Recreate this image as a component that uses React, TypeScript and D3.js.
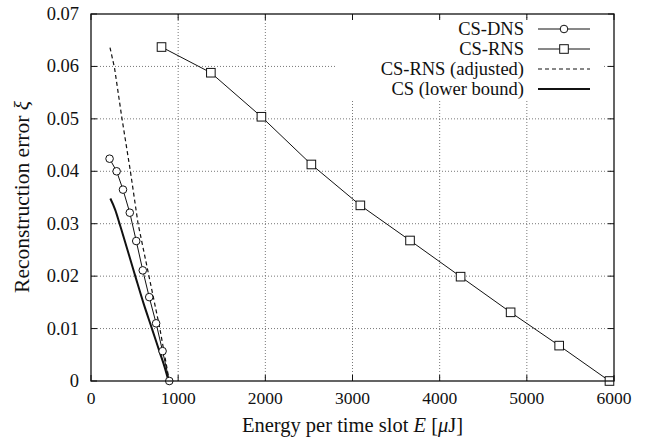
import React from 'react';
import * as d3 from 'd3';

// values
const dnsE = [213, 294, 367, 445, 519, 594, 668, 747, 821, 898];
const dnsXi = [0.0424, 0.04, 0.0365, 0.0321, 0.0267, 0.0211, 0.016, 0.011, 0.0057, 0];
const rnsE = [809, 1375, 1955, 2528, 3090, 3660, 4240, 4814, 5371, 5948];
const rnsXi = [0.0637, 0.0588, 0.0504, 0.0413, 0.0335, 0.0268, 0.0199, 0.0131, 0.00675, 0];
const adjE = [218, 270, 355, 452, 540, 665, 790, 898];
const adjXi = [0.0636, 0.0597, 0.0501, 0.04, 0.03, 0.02, 0.01, 0];
const lbE = [222, 279, 328, 508, 603, 699, 794, 844, 890];
const lbXi = [0.0348, 0.0326, 0.03, 0.02, 0.0148, 0.01, 0.0052, 0.0027, 0];

const xTicks = [0, 1000, 2000, 3000, 4000, 5000, 6000];
const yTicks = [0, 0.01, 0.02, 0.03, 0.04, 0.05, 0.06, 0.07];
const legendLabels = ['CS-DNS', 'CS-RNS', 'CS-RNS (adjusted)', 'CS (lower bound)'];

const W = 646, H = 439;
const margin = { top: 14, right: 32, bottom: 58, left: 91 };
const font = 'Liberation Serif, Times New Roman, serif';

const App: React.FC = () => {
  const iw = W - margin.left - margin.right;
  const ih = H - margin.top - margin.bottom;
  const x = d3.scaleLinear().domain([0, 6000]).range([0, iw]);
  const y = d3.scaleLinear().domain([0, 0.07]).range([ih, 0]);

  const zip = (a: number[], b: number[]) => a.map((v, i) => [v, b[i]] as [number, number]);
  const line = d3.line<[number, number]>().x(d => x(d[0])).y(d => y(d[1]));
  const smooth = d3.line<[number, number]>().x(d => x(d[0])).y(d => y(d[1])).curve(d3.curveMonotoneX);

  const dns = zip(dnsE, dnsXi);
  const rns = zip(rnsE, rnsXi);
  const sq = 8.6;
  const ink = '#111';
  const grid = '#777';

  const legX0 = 538 - margin.left, legX1 = 590 - margin.left, legT = 524 - margin.left;
  const legY = (i: number) => 29 - margin.top + i * 20;

  return (
    <svg width={W} height={H} style={{ position: 'absolute', left: 0, top: 0, background: '#fff', fontFamily: font }}>
      <g transform={`translate(${margin.left},${margin.top})`}>
        {/* grid */}
        {xTicks.slice(1, -1).map(t => (
          <line key={'gx' + t} x1={x(t)} x2={x(t)} y1={0} y2={ih} stroke={grid} strokeWidth={1} strokeDasharray="1,2" />
        ))}
        {yTicks.slice(1, -1).map(t => (
          <line key={'gy' + t} x1={0} x2={iw} y1={y(t)} y2={y(t)} stroke={grid} strokeWidth={1} strokeDasharray="1,2" />
        ))}

        {/* legend background */}
        <rect x={335 - margin.left} y={19 - margin.top} width={268} height={80} fill="#fff" />

        {/* ticks on all sides */}
        {xTicks.map(t => (
          <g key={'tx' + t}>
            <line x1={x(t)} x2={x(t)} y1={ih} y2={ih - 6} stroke={ink} />
            <line x1={x(t)} x2={x(t)} y1={0} y2={6} stroke={ink} />
            <text x={x(t)} y={ih + 23} textAnchor="middle" fontSize={17.5} fill={ink}>{t}</text>
          </g>
        ))}
        {yTicks.map(t => (
          <g key={'ty' + t}>
            <line x1={0} x2={6} y1={y(t)} y2={y(t)} stroke={ink} />
            <line x1={iw} x2={iw - 6} y1={y(t)} y2={y(t)} stroke={ink} />
            <text x={-12} y={y(t) + 6} textAnchor="end" fontSize={18.5} fill={ink}>{t === 0 ? '0' : d3.format('.2f')(t)}</text>
          </g>
        ))}

        {/* series */}
        <path d={smooth(zip(lbE, lbXi)) || ''} fill="none" stroke={ink} strokeWidth={2} />
        <path d={line(zip(adjE, adjXi)) || ''} fill="none" stroke={ink} strokeWidth={1.2} strokeDasharray="4,3" />
        <path d={line(dns) || ''} fill="none" stroke={ink} strokeWidth={1} />
        {dns.map((d, i) => (
          <circle key={'c' + i} cx={x(d[0])} cy={y(d[1])} r={3.8} fill="#fff" stroke={ink} strokeWidth={1} />
        ))}
        <path d={line(rns) || ''} fill="none" stroke={ink} strokeWidth={1} />
        {rns.map((d, i) => (
          <rect key={'s' + i} x={x(d[0]) - sq / 2} y={y(d[1]) - sq / 2} width={sq} height={sq} fill="#fff" stroke={ink} strokeWidth={1} />
        ))}

        {/* legend */}
        {legendLabels.map((lab, i) => (
          <g key={'l' + i}>
            <text x={legT} y={legY(i) + 6} textAnchor="end" fontSize={18.5} fill={ink}>{lab}</text>
            <line x1={legX0} x2={legX1} y1={legY(i)} y2={legY(i)} stroke={ink}
              strokeWidth={i === 3 ? 2 : i === 2 ? 1.2 : 1} strokeDasharray={i === 2 ? '4,3' : undefined} />
            {i === 0 && <circle cx={(legX0 + legX1) / 2} cy={legY(i)} r={3.8} fill="#fff" stroke={ink} />}
            {i === 1 && <rect x={(legX0 + legX1) / 2 - sq / 2} y={legY(i) - sq / 2} width={sq} height={sq} fill="#fff" stroke={ink} />}
          </g>
        ))}

        {/* frame */}
        <rect x={0} y={0} width={iw} height={ih} fill="none" stroke={ink} strokeWidth={1.3} />

        {/* axis titles */}
        <text x={iw / 2} y={ih + 51} textAnchor="middle" fontSize={20.5} fill={ink}>
          Energy per time slot <tspan fontStyle="italic">E</tspan> [<tspan fontStyle="italic">μ</tspan>J]
        </text>
        <text transform={`translate(${29 - margin.left},${197 - margin.top}) rotate(-90)`} textAnchor="middle" fontSize={21.5} fill={ink}>
          Reconstruction error <tspan fontStyle="italic">ξ</tspan>
        </text>
      </g>
    </svg>
  );
};

export default App;
